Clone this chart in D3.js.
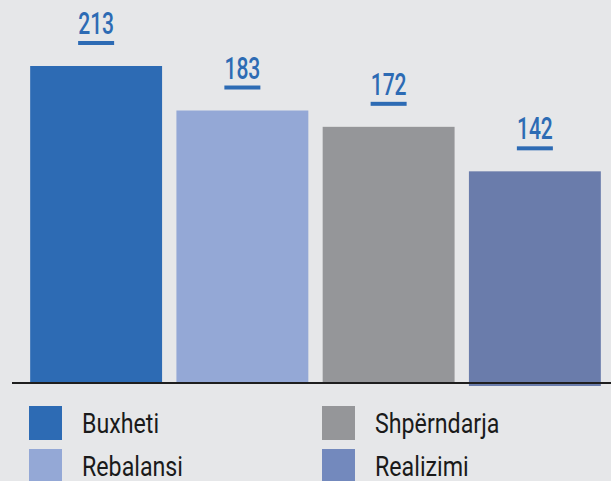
<!DOCTYPE html>
<html><head><meta charset="utf-8">
<script src="https://cdn.jsdelivr.net/npm/d3@7"></script>
<style>
html,body{margin:0;padding:0;background:#e6e7e9;}
svg{display:block;}
</style></head>
<body><svg id="c" width="611" height="481"></svg>
<script>
const categories = ["Buxheti", "Rebalansi", "Shpërndarja", "Realizimi"];
const values = [213, 183, 172, 142];
const colors = ["#2d6bb4", "#94a8d6", "#959699", "#6a7cab"];
const legendColors = ["#2d6bb4", "#94a8d6", "#959699", "#7389bd"];

const svg = d3.select("#c");
const base = 382, top0 = 66;
const x = d3.scaleBand().domain(categories).range([23, 608]).paddingInner(0.098).paddingOuter(0.049);
const y = d3.scaleLinear().domain([0, d3.max(values)]).range([base, top0]);
const data = categories.map((c, i) => ({c, v: values[i], col: colors[i]}));

svg.append("rect").attr("width", 611).attr("height", 481).attr("fill", "#e6e7e9");

svg.selectAll("rect.bar").data(data).enter().append("rect")
  .attr("class", "bar")
  .attr("x", d => x(d.c)).attr("width", x.bandwidth())
  .attr("y", d => y(d.v)).attr("height", d => base - y(d.v) + (d.c === "Realizimi" ? 4 : 0))
  .attr("fill", d => d.col);

const font = "Roboto, 'Noto Sans', sans-serif";

svg.selectAll("text.val").data(data).enter().append("text")
  .attr("class", "val")
  .attr("transform", d => `translate(${x(d.c) + x.bandwidth() / 2},${y(d.v) - 32}) scale(0.68,1)`)
  .attr("text-anchor", "middle")
  .attr("font-family", font).attr("font-size", 31).attr("font-weight", 500)
  .attr("fill", "#2d6bb4")
  .text(d => d.v);

svg.selectAll("rect.ul").data(data).enter().append("rect")
  .attr("class", "ul")
  .attr("x", d => x(d.c) + x.bandwidth() / 2 - 18)
  .attr("width", 36)
  .attr("y", d => y(d.v) - 25).attr("height", 4)
  .attr("fill", "#2d6bb4");

svg.append("line").attr("x1", 12).attr("x2", 611).attr("y1", base + 1).attr("y2", base + 1)
  .attr("stroke", "#1e1e1e").attr("stroke-width", 2);

const lg = svg.append("g");
categories.forEach((c, i) => {
  const col = i === 0 || i === 1 ? 0 : 1;
  const row = i === 0 || i === 2 ? 0 : 1;
  const lx = col === 0 ? 29 : 322;
  const ly = row === 0 ? 406 : 449;
  lg.append("rect").attr("x", lx).attr("y", ly).attr("width", 33).attr("height", 34).attr("fill", legendColors[i]);
  lg.append("text").attr("transform", `translate(${lx + 53},${ly + 27}) scale(0.86,1)`)
    .attr("font-family", font).attr("font-size", 27).attr("font-weight", 400).attr("fill", "#1a1a1a").text(c);
});
</script></body></html>
